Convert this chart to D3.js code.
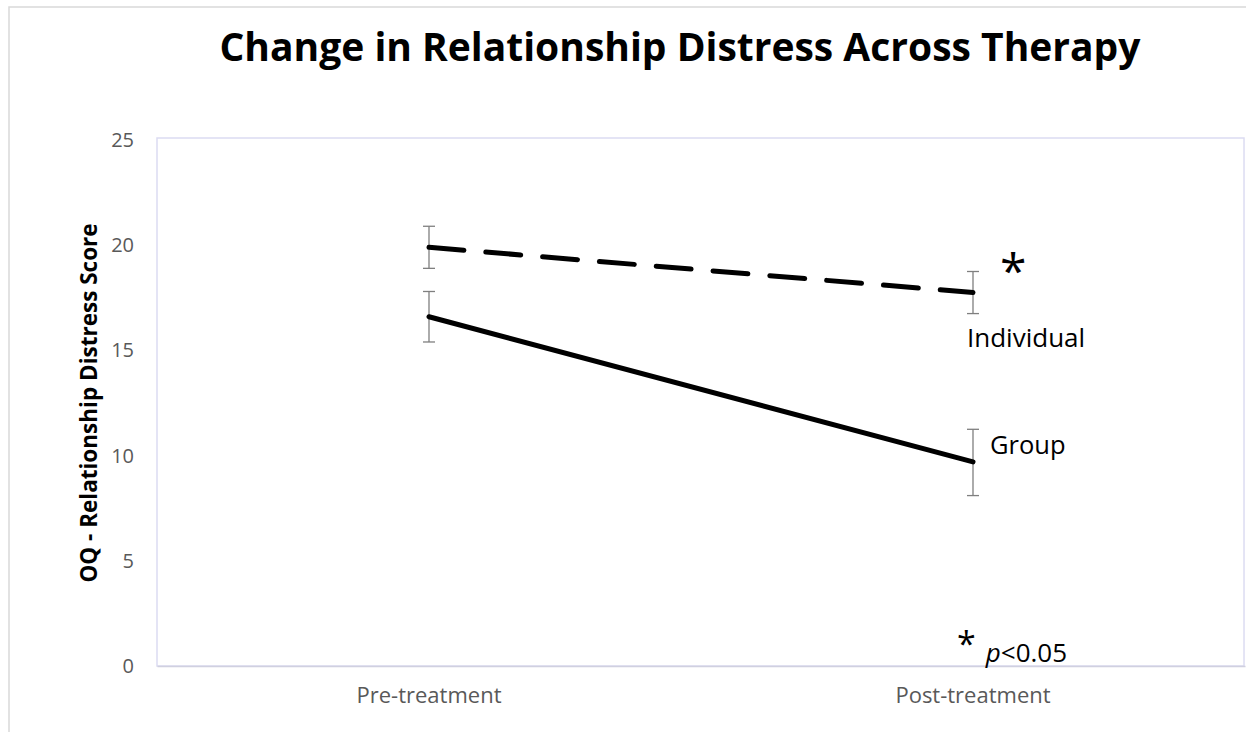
<!DOCTYPE html>
<html>
<head>
<meta charset="utf-8">
<script src="https://cdn.jsdelivr.net/npm/d3@7"></script>
<style>
  html, body { margin: 0; padding: 0; background: #ffffff; }
  svg { display: block; font-family: "Open Sans", "Noto Sans", sans-serif; }
</style>
</head>
<body>
<svg id="chart" width="1246" height="732"></svg>
<script>
// Time points and OQ relationship-distress means with error bar bounds
const timepoints = ["Pre-treatment", "Post-treatment"];
const individualMean = [19.9, 17.75];
const individualLow = [18.9, 16.75];
const individualHigh = [20.9, 18.75];
const groupMean = [16.6, 9.7];
const groupLow = [15.4, 8.1];
const groupHigh = [17.8, 11.25];
const yTicks = [0, 5, 10, 15, 20, 25];

const svg = d3.select("#chart");
const W = 1246, H = 732;
const plot = { left: 157, right: 1245, top: 140, bottom: 666 };

// outer chart frame
svg.append("rect").attr("x", 0).attr("y", 0).attr("width", W).attr("height", H).attr("fill", "#fff");
svg.append("path")
  .attr("d", `M9,${H} V7 H${W}`)
  .attr("fill", "none").attr("stroke", "#d9d9d9").attr("stroke-width", 1.5);

const x = d3.scaleBand().domain(timepoints).range([plot.left, plot.right]);
const y = d3.scaleLinear().domain([0, 25]).range([plot.bottom, plot.top]);

// plot area border
svg.append("rect")
  .attr("x", plot.left).attr("y", plot.top - 2)
  .attr("width", plot.right - plot.left - 1).attr("height", plot.bottom - plot.top + 2)
  .attr("fill", "none").attr("stroke", "#dcdcf2").attr("stroke-width", 1.5);

// y axis labels
const yAxis = svg.append("g")
  .attr("transform", `translate(${plot.left},0)`)
  .call(d3.axisLeft(y).tickValues(yTicks).tickSize(0).tickPadding(23))
  .attr("font-size", 20).attr("font-family", "Open Sans, sans-serif");
yAxis.select(".domain").remove();
yAxis.selectAll("text").attr("fill", "#595959");

// x axis labels
const xAxis = svg.append("g")
  .attr("transform", `translate(0,${plot.bottom})`)
  .call(d3.axisBottom(x).tickSize(0).tickPadding(21))
  .attr("font-size", 22).attr("font-family", "Open Sans, sans-serif");
xAxis.select(".domain").attr("stroke", "#d0d0e0").attr("stroke-width", 1.5);
xAxis.selectAll("text").attr("fill", "#595959");

// title
svg.append("text")
  .attr("x", 680).attr("y", 61)
  .attr("text-anchor", "middle")
  .attr("font-weight", "bold").attr("font-size", 39).attr("fill", "#000")
  .text("Change in Relationship Distress Across Therapy");

// y axis title
svg.append("text")
  .attr("transform", `translate(97,${(plot.top + plot.bottom) / 2}) rotate(-90)`)
  .attr("text-anchor", "middle")
  .attr("font-weight", "bold").attr("font-size", 22.5).attr("fill", "#000")
  .text("OQ - Relationship Distress Score");

const cx = d => x(d) + x.bandwidth() / 2;

function drawErrorBars(means, lows, highs) {
  const g = svg.append("g").attr("stroke", "#7f7f7f").attr("stroke-width", 1.3);
  timepoints.forEach((t, i) => {
    g.append("line").attr("x1", cx(t)).attr("x2", cx(t)).attr("y1", y(lows[i])).attr("y2", y(highs[i]));
    [lows[i], highs[i]].forEach(v => {
      g.append("line").attr("x1", cx(t) - 6).attr("x2", cx(t) + 6).attr("y1", y(v)).attr("y2", y(v));
    });
  });
}

drawErrorBars(individualMean, individualLow, individualHigh);
drawErrorBars(groupMean, groupLow, groupHigh);

const line = d3.line().x((d, i) => cx(timepoints[i])).y(d => y(d));

svg.append("path")
  .datum(individualMean)
  .attr("d", line)
  .attr("fill", "none").attr("stroke", "#000").attr("stroke-width", 5)
  .attr("stroke-linecap", "round").attr("stroke-dasharray", "35,22");

svg.append("path")
  .datum(groupMean)
  .attr("d", line)
  .attr("fill", "none").attr("stroke", "#000").attr("stroke-width", 5)
  .attr("stroke-linecap", "round");

// series labels
const post = cx(timepoints[1]);
svg.append("text")
  .attr("x", post - 6).attr("y", y(individualLow[1]) + 33)
  .attr("font-size", 26).attr("fill", "#000")
  .text("Individual");
svg.append("text")
  .attr("x", post + 17).attr("y", y(groupHigh[1]) + 25)
  .attr("font-size", 25.5).attr("fill", "#000")
  .text("Group");

// significance marker
svg.append("text")
  .attr("x", post + 27).attr("y", y(individualHigh[1]) + 16)
  .attr("font-size", 48).attr("fill", "#000")
  .text("*");

// significance note
const note = svg.append("text")
  .attr("x", post - 16).attr("y", plot.bottom - 4)
  .attr("fill", "#000");
note.append("tspan").attr("font-size", 34).attr("dy", -6).text("*");
note.append("tspan").attr("font-size", 26).attr("dx", 10).attr("dy", 6).attr("font-style", "italic").text("p");
note.append("tspan").attr("font-size", 26).text("<0.05");
</script>
</body>
</html>
